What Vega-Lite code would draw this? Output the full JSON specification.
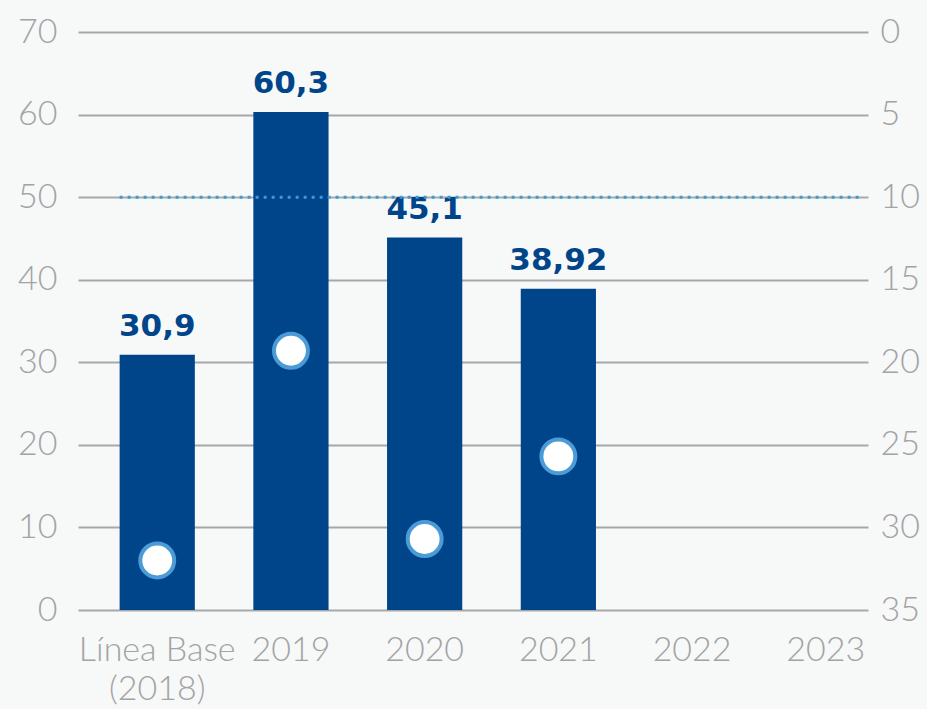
{
  "$schema": "https://vega.github.io/schema/vega-lite/v6.json",
  "width": 790,
  "height": 578,
  "autosize": "none",
  "padding": {"left": 78, "top": 32, "right": 59, "bottom": 99},
  "background": "#f7f8f8",
  "config": {
    "view": {"stroke": null},
    "locale": {"number": {"decimal": ",", "thousands": ".", "grouping": [3], "currency": ["", " €"]}},
    "axis": {
      "domain": false,
      "ticks": false,
      "title": null,
      "labelFont": "Lato",
      "labelFontWeight": 300,
      "labelFontSize": 34,
      "labelColor": "#a3a3a5"
    }
  },
  "datasets": {
    "main": [
      {"cat": "Línea Base (2018)", "value": 30.9, "point": 32.0},
      {"cat": "2019", "value": 60.3, "point": 19.3},
      {"cat": "2020", "value": 45.1, "point": 30.7},
      {"cat": "2021", "value": 38.92, "point": 25.7}
    ],
    "target": [
      {"from": "Línea Base (2018)", "to": "2023", "meta": 50}
    ]
  },
  "layer": [
    {
      "layer": [
        {
          "data": {"name": "main"},
          "mark": {"type": "bar", "color": "#00448a"},
          "encoding": {
            "x": {
              "field": "cat",
              "type": "nominal",
              "sort": null,
              "scale": {
                "domain": ["Línea Base (2018)", "2019", "2020", "2021", "2022", "2023"],
                "paddingInner": 0.4375,
                "paddingOuter": 0.173,
                "align": 0.9
              },
              "axis": {
                "labelAngle": 0,
                "labelPadding": 23,
                "labelLineHeight": 39,
                "labelBaseline": "top",
                "labelExpr": "datum.value == 'Línea Base (2018)' ? ['Línea Base', '(2018)'] : datum.value"
              }
            },
            "y": {
              "field": "value",
              "type": "quantitative",
              "scale": {"domain": [0, 70]},
              "axis": {
                "values": [0, 10, 20, 30, 40, 50, 60, 70],
                "grid": true,
                "gridColor": "#a7a7a9",
                "gridWidth": 2,
                "labelPadding": 21
              }
            }
          }
        },
        {
          "data": {"name": "main"},
          "mark": {
            "type": "text",
            "baseline": "alphabetic",
            "dy": -19,
            "font": "DejaVu Sans",
            "fontWeight": "bold",
            "fontSize": 31,
            "color": "#00448a"
          },
          "encoding": {
            "x": {"field": "cat", "type": "nominal", "sort": null},
            "y": {"field": "value", "type": "quantitative"},
            "text": {"field": "value", "type": "quantitative", "format": "~g"}
          }
        },
        {
          "data": {"name": "target"},
          "mark": {"type": "rule", "color": "#3d9ad8", "strokeWidth": 3, "strokeDash": [3, 5]},
          "encoding": {
            "x": {"field": "from", "type": "nominal", "bandPosition": 0},
            "x2": {"field": "to", "bandPosition": 1},
            "y": {"field": "meta", "type": "quantitative"}
          }
        }
      ]
    },
    {
      "data": {"name": "main"},
      "mark": {"type": "point", "filled": true, "fill": "#ffffff", "stroke": "#4a9bd6", "strokeWidth": 4, "size": 1150, "opacity": 1},
      "encoding": {
        "x": {"field": "cat", "type": "nominal", "sort": null},
        "y": {
          "field": "point",
          "type": "quantitative",
          "scale": {"domain": [0, 35], "reverse": true},
          "axis": {
            "orient": "right",
            "values": [0, 5, 10, 15, 20, 25, 30, 35],
            "grid": false,
            "labelPadding": 12
          }
        }
      }
    }
  ],
  "resolve": {"scale": {"y": "independent"}, "axis": {"y": "independent"}}
}
